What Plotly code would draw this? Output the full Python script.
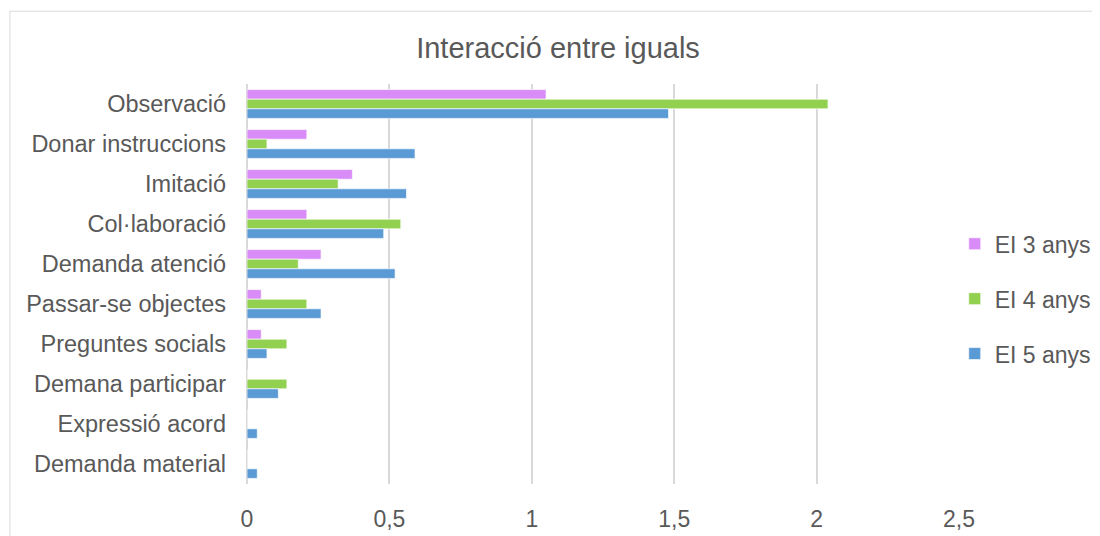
import plotly.graph_objects as go

categories = ["Observació", "Donar instruccions", "Imitació", "Col·laboració",
              "Demanda atenció", "Passar-se objectes", "Preguntes socials",
              "Demana participar", "Expressió acord", "Demanda material"]
ei3 = [1.05, 0.21, 0.37, 0.21, 0.26, 0.05, 0.05, 0, 0, 0]
ei4 = [2.04, 0.07, 0.32, 0.54, 0.18, 0.21, 0.14, 0.14, 0, 0]
ei5 = [1.48, 0.59, 0.56, 0.48, 0.52, 0.26, 0.07, 0.11, 0.036, 0.036]
series_names = ["EI 3 anys", "EI 4 anys", "EI 5 anys"]
colors = ["#D98CF7", "#92D050", "#5B9BD5"]
tick_vals = [0, 0.5, 1, 1.5, 2, 2.5]
tick_text = ["0", "0,5", "1", "1,5", "2", "2,5"]

fig = go.Figure()
for name, vals, col in zip(series_names, [ei3, ei4, ei5], colors):
    fig.add_trace(go.Bar(
        y=categories, x=vals, name=name, orientation="h",
        marker=dict(color=col, line=dict(color="rgba(255,255,255,0.8)", width=0.8)),
        legendgroup=name,
    ))

fig.update_layout(
    width=1100, height=536,
    margin=dict(l=239, r=149, t=76, b=54),
    paper_bgcolor="white", plot_bgcolor="white",
    font=dict(family="Liberation Sans, Arial, sans-serif", size=23, color="#595959"),
    title=dict(text="Interacció entre iguals", x=0.5, xanchor="center",
               y=1 - 40 / 536, yanchor="middle",
               font=dict(size=29, color="#595959")),
    barmode="group", bargap=0.28, bargroupgap=0,
    legend=dict(x=0.994, xanchor="left", y=0.463, yanchor="middle",
                traceorder="grouped", tracegroupgap=22,
                font=dict(size=23, color="#595959"), itemwidth=30),
    showlegend=True,
)
fig.update_xaxes(range=[0, 2.5], tickvals=tick_vals, ticktext=tick_text,
                 showgrid=True, gridcolor="#D9D9D9", gridwidth=1.5,
                 zeroline=True, zerolinecolor="#D9D9D9", zerolinewidth=1.5,
                 showline=False, ticks="", ticklabelstandoff=19,
                 tickfont=dict(size=23, color="#595959"))
fig.update_yaxes(autorange="reversed", showgrid=False, zeroline=False,
                 showline=False, ticks="", ticklabelstandoff=20,
                 tickfont=dict(size=23.5, color="#595959"))
fig.add_shape(type="rect", xref="paper", yref="paper",
              x0=-0.333, x1=1.6, y0=-0.5, y1=1.182,
              line=dict(color="#D9D9D9", width=1), fillcolor="rgba(0,0,0,0)",
              layer="below")

fig.write_html("out.html")
